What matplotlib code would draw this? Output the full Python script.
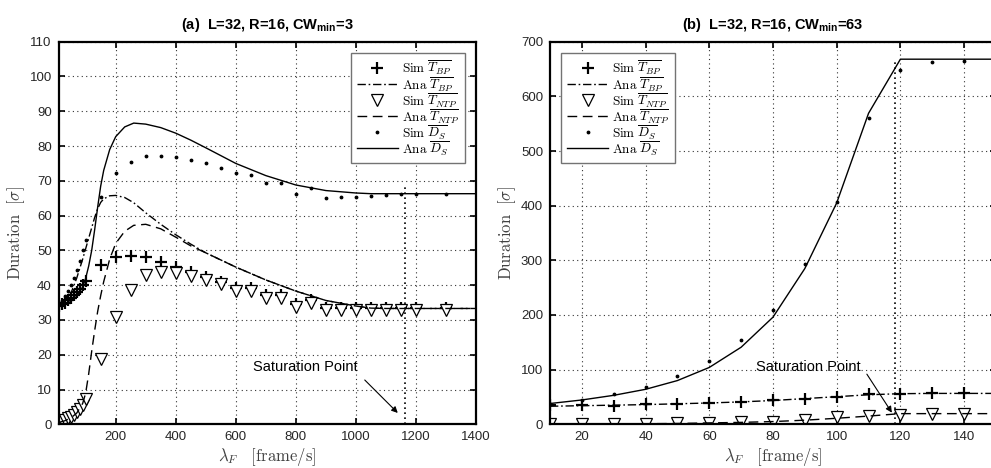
import matplotlib
matplotlib.use("Agg")
import matplotlib.pyplot as plt

plt.rcParams["font.family"] = ["Liberation Sans", "DejaVu Sans"]
plt.rcParams["mathtext.fontset"] = "cm"
plt.rcParams["mathtext.rm"] = "Liberation Sans:bold"
plt.rcParams["mathtext.it"] = "Liberation Sans:bold"
plt.rcParams["mathtext.bf"] = "Liberation Sans:bold"

# ---- panel (a): L=32, R=16, CWmin=3 ----
a_x_sim = [10, 20, 30, 40, 50, 60, 70, 80, 90, 100, 150, 200, 250, 300, 350, 400, 450,
           500, 550, 600, 650, 700, 750, 800, 850, 900, 950, 1000, 1050, 1100, 1150, 1200, 1300]
a_sim_tbp = [34, 34.5, 35, 35.6, 36.3, 37.1, 38, 39, 40.1, 41.3, 45.8, 48.2, 48.5, 48.2, 46.8,
             45.1, 43.9, 42.3, 41, 39.1, 39.1, 37.2, 37.2, 34.6, 35.7, 33.3, 33.3, 33.3, 33.3,
             33.3, 33.3, 33.3, 33.3]
a_sim_tntp = [0.8, 1.0, 1.3, 1.7, 2.2, 2.8, 3.6, 4.5, 5.6, 7.2, 18.7, 30.8, 38.6, 42.9, 43.9,
              43.5, 42.5, 41.5, 40.3, 38.3, 38.3, 36.3, 36.3, 33.8, 34.8, 32.8, 32.8, 32.8, 32.8,
              32.8, 32.8, 32.8, 32.8]
a_sim_ds = [34.5, 35.5, 36.8, 38.3, 40, 42, 44.5, 47, 50, 53, 65.3, 72.3, 75.5, 77.2, 77.2, 76.8,
            76, 75, 73.6, 72.2, 71.7, 69.5, 69.5, 66.2, 67.8, 65, 65.3, 65.4, 65.6, 66, 66.2,
            66.3, 66.3]

a_x_ana = [10, 30, 50, 70, 90, 100, 110, 120, 130, 140, 150, 160, 180, 200, 230, 260, 300, 350,
           400, 450, 500, 600, 700, 800, 900, 1000, 1050, 1100, 1400]
a_ana_ds = [34, 34.5, 35.3, 36.8, 39.5, 42, 45.5, 50, 56, 62.5, 68.5, 73, 79, 82.7, 85.5, 86.6,
            86.3, 85.3, 83.7, 81.7, 79.5, 75, 71.5, 68.8, 67.2, 66.5, 66.3, 66.3, 66.3]
a_ana_tbp = [34, 35, 37.5, 42, 47.5, 50.5, 53.5, 56.5, 59.5, 62, 63.8, 64.8, 65.7, 65.8, 65.2,
             63.7, 60.8, 57.5, 54.5, 51.8, 49.3, 45.2, 41.5, 38.3, 35.6, 34, 33.4, 33.3, 33.3]
a_ana_tntp = [0.5, 1, 1.8, 3.2, 6, 9, 14.5, 21, 27, 32.5, 37, 41, 47.5, 52, 55.5, 57.2, 57.5,
              56.2, 53.8, 51.3, 49.3, 45.2, 41.5, 38.3, 35.6, 34, 33.4, 33.3, 33.3]
a_sat = 1165

# ---- panel (b): L=32, R=16, CWmin=63 ----
b_x_sim = [10, 20, 30, 40, 50, 60, 70, 80, 90, 100, 110, 120, 130, 140]
b_sim_tbp = [35, 35, 33.5, 37, 37.5, 38.5, 41, 44, 46.5, 50.5, 55, 55, 56.5, 56.5]
b_sim_tntp = [0, 0, 0, 0.5, 1.5, 2.5, 4.5, 4, 8.5, 12.5, 15.5, 17.5, 18.5, 18.5]
b_sim_ds = [37, 44, 55, 69, 88, 116, 154, 210, 293, 407, 560, 648, 662, 665]

b_x_ana = [10, 20, 30, 40, 50, 60, 70, 80, 90, 100, 110, 120, 130, 140, 150]
b_ana_tbp = [33, 34, 35, 36, 37.5, 39, 41, 43.5, 47, 50.5, 54, 56, 56.5, 56.5, 56.5]
b_ana_tntp = [0, 0.2, 0.5, 1, 1.5, 2.5, 3.5, 5, 7.5, 11, 15, 19.5, 19.5, 19.5, 19.5]
b_ana_ds = [38, 44.5, 53, 64, 80, 104, 141, 196, 285, 405, 569, 668, 668, 668, 668]
b_sat = 118.4

labels = [r"$\mathrm{Sim}\ \overline{T_{BP}}$", r"$\mathrm{Ana}\ \overline{T_{BP}}$",
          r"$\mathrm{Sim}\ \overline{T_{NTP}}$", r"$\mathrm{Ana}\ \overline{T_{NTP}}$",
          r"$\mathrm{Sim}\ \overline{D_S}$", r"$\mathrm{Ana}\ \overline{D_S}$"]


def draw_panel(ax, xs, tbp, tntp, ds, xa, atbp, atntp, ads):
    h1, = ax.plot(xs, tbp, "k+", ms=9, mew=1.6, ls="none")
    h2, = ax.plot(xa, atbp, "k", lw=1, dashes=(6, 2, 1.2, 2))
    h3, = ax.plot(xs, tntp, "v", ms=8, mew=0.9, mfc="white", mec="black", ls="none")
    h4, = ax.plot(xa, atntp, "k", lw=1, dashes=(7, 4))
    h5, = ax.plot(xs, ds, "k.", ms=3.5, ls="none")
    h6, = ax.plot(xa, ads, "k-", lw=1)
    return [h1, h2, h3, h4, h5, h6]


def style_axes(ax):
    ax.grid(True, color="0.2", ls=(0, (1, 3)), lw=0.8)
    ax.set_axisbelow(True)
    ax.tick_params(direction="in", top=True, right=True, length=4, width=1.2,
                   labelsize=9.5, pad=5, colors="black")
    ax.tick_params(labelcolor="0.15")
    for sp in ax.spines.values():
        sp.set_linewidth(1.6)
    ax.set_ylabel(r"$\mathrm{Duration}\ \ [\sigma]$", fontsize=12, color="0.25",
                  math_fontfamily="cm", labelpad=2)
    ax.set_xlabel(r"$\lambda_F\quad[\mathrm{frame/s}]$", fontsize=12, color="0.25",
                  math_fontfamily="cm", labelpad=2)


fig = plt.figure(figsize=(9.91, 4.68), dpi=100)
ax1 = fig.add_axes([0.0592, 0.0934, 0.4211, 0.8175])
ax2 = fig.add_axes([0.555, 0.0934, 0.450, 0.8175])

# (a)
hs = draw_panel(ax1, a_x_sim, a_sim_tbp, a_sim_tntp, a_sim_ds,
                a_x_ana, a_ana_tbp, a_ana_tntp, a_ana_ds)
ax1.plot([a_sat, a_sat], [0, 69], "k", ls=(0, (1, 2)), lw=1.2)
ax1.set_xlim(10, 1400)
ax1.set_ylim(0, 110)
ax1.set_xticks(range(200, 1401, 200))
ax1.set_yticks(range(0, 111, 10))
style_axes(ax1)
ax1.set_title(r"(a)  L=32, R=16, CW$_{\mathrm{min}}$=3", fontsize=10.5, fontweight="bold",
              math_fontfamily="custom", pad=9)
ax1.annotate("", xy=(1146, 2.7), xytext=(1023, 13.3),
             arrowprops=dict(arrowstyle="-|>", color="black", lw=0.8, mutation_scale=9))
ax1.text(830, 16.5, "Saturation Point", ha="center", va="center", fontsize=10.5)
leg1 = ax1.legend(hs, labels, loc="upper right", fontsize=9.5, handlelength=3.1,
                  borderaxespad=0.85, fancybox=False, edgecolor="0.45", framealpha=1,
                  labelspacing=-0.12, handletextpad=0.3, borderpad=0.45)

# (b)
hs = draw_panel(ax2, b_x_sim, b_sim_tbp, b_sim_tntp, b_sim_ds,
                b_x_ana, b_ana_tbp, b_ana_tntp, b_ana_ds)
ax2.plot([b_sat, b_sat], [0, 668], "k", ls=(0, (1, 2)), lw=1.2)
ax2.set_xlim(10, 150)
ax2.set_ylim(0, 700)
ax2.set_xticks(range(20, 141, 20))
ax2.set_yticks(range(0, 701, 100))
style_axes(ax2)
ax2.set_title(r"(b)  L=32, R=16, CW$_{\mathrm{min}}$=63", fontsize=10.5, fontweight="bold",
              math_fontfamily="custom", pad=9)
ax2.annotate("", xy=(117.8, 17), xytext=(109, 96),
             arrowprops=dict(arrowstyle="-|>", color="black", lw=0.8, mutation_scale=9))
ax2.text(91, 105, "Saturation Point", ha="center", va="center", fontsize=10.5)
leg2 = ax2.legend(hs, labels, loc="upper left", fontsize=9.5, handlelength=3.1,
                  borderaxespad=0.85, fancybox=False, edgecolor="0.45", framealpha=1,
                  labelspacing=-0.12, handletextpad=0.3, borderpad=0.45)

for leg in (leg1, leg2):
    leg.get_frame().set_linewidth(1.0)
    for t in leg.get_texts():
        t.set_math_fontfamily("cm")

fig.savefig("out.png", dpi=100)
